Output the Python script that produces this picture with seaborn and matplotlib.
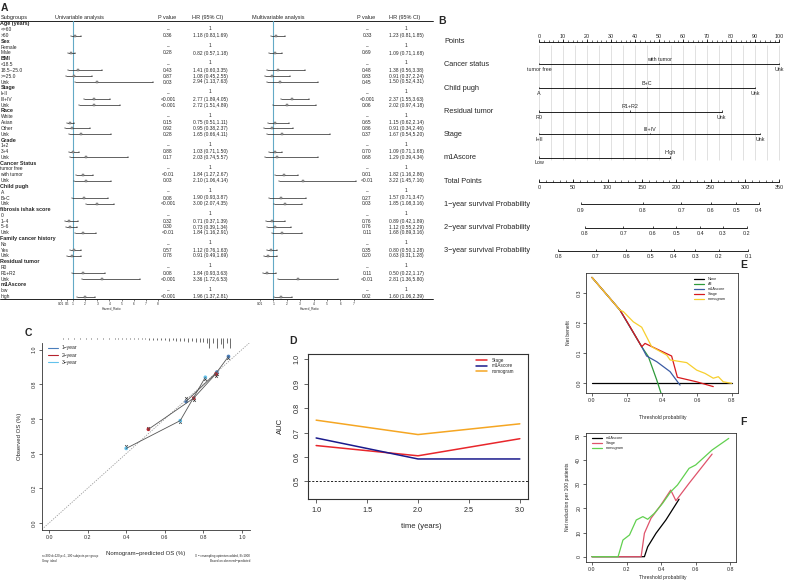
import matplotlib
matplotlib.use("Agg")
import matplotlib.pyplot as plt
from matplotlib.lines import Line2D
import numpy as np
import seaborn as sns

# ---------------- panel A: forest table ----------------
groups = ["Age (years)", "Sex", "BMI", "Stage", "Race", "Grade", "Cancer Status", "Child pugh",
          "fibrosis ishak score", "Family cancer history", "Residual tumor", "m1Ascore"]
levels = [["<=60", ">60"], ["Female", "Male"], ["<18.5", "18.5~25.0", ">=25.0", "Unk"],
          ["I+II", "III+IV", "Unk"], ["White", "Asian", "Other", "Unk"], ["1+2", "3+4", "Unk"],
          ["tumor free", "with tumor", "Unk"], ["A", "B+C", "Unk"], ["0", "1~4", "5~6", "Unk"],
          ["No", "Yes", "Unk"], ["R0", "R1+R2", "Unk"], ["low", "high"]]

uni_p = ["0.36", "0.28", "0.43", "0.87", "0.03", "<0.001", "<0.001", "0.15", "0.92", "0.28", "0.88", "0.17",
         "<0.01", "0.03", "0.08", "<0.001", "0.32", "0.30", "<0.01", "0.57", "0.78", "0.08", "<0.001", "<0.001"]
uni_hr = [1.18, 0.82, 1.41, 1.08, 2.94, 2.77, 2.72, 0.75, 0.95, 1.65, 1.03, 2.03,
          1.84, 2.10, 1.90, 3.00, 0.71, 0.73, 1.84, 1.12, 0.91, 1.84, 3.36, 1.96]
uni_lo = [0.83, 0.57, 0.60, 0.45, 1.13, 1.89, 1.51, 0.51, 0.38, 0.66, 0.71, 0.74,
          1.27, 1.06, 0.93, 2.07, 0.37, 0.39, 1.16, 0.76, 0.49, 0.93, 1.72, 1.37]
uni_hi = [1.69, 1.18, 3.35, 2.55, 7.63, 4.05, 4.89, 1.11, 2.37, 4.11, 1.50, 5.57,
          2.67, 4.14, 3.87, 4.35, 1.39, 1.34, 2.91, 1.63, 1.69, 3.63, 6.53, 2.81]

multi_p = ["0.33", "0.69", "0.48", "0.83", "0.45", "<0.001", "0.06", "0.65", "0.86", "0.37", "0.70", "0.68",
           "0.01", "<0.01", "0.27", "0.03", "0.76", "0.76", "0.11", "0.35", "0.20", "0.11", "<0.01", "0.02"]
multi_hr = [1.23, 1.09, 1.38, 0.91, 1.50, 2.37, 2.02, 1.15, 0.91, 1.67, 1.09, 1.29,
            1.82, 3.22, 1.57, 1.85, 0.89, 1.12, 1.68, 0.80, 0.63, 0.50, 2.81, 1.60]
multi_lo = [0.81, 0.71, 0.56, 0.37, 0.52, 1.55, 0.97, 0.62, 0.34, 0.54, 0.71, 0.39,
            1.16, 1.45, 0.71, 1.08, 0.42, 0.55, 0.89, 0.50, 0.31, 0.22, 1.36, 1.06]
multi_hi = [1.85, 1.68, 3.38, 2.24, 4.31, 3.63, 4.18, 2.14, 2.46, 5.20, 1.68, 4.34,
            2.86, 7.16, 3.47, 3.16, 1.89, 2.29, 3.16, 1.28, 1.28, 1.17, 5.80, 2.39]

uni_ticks = [0.01, 0.5, 1, 2, 3, 4, 5, 6, 7, 8]
multi_ticks = [0.01, 1, 2, 3, 4, 5, 6, 7]

# ---------------- panel B: nomogram ----------------
nomo_vars = ["Cancer status", "Child pugh", "Residual tumor", "Stage", "m1Ascore"]
nomo_levels = [["tumor free", "with tumor", "Unk"], ["A", "B+C", "Unk"], ["R0", "R1+R2", "Unk"],
               ["I+II", "III+IV", "Unk"], ["Low", "High"]]
nomo_points = [[0, 50, 100], [0, 45, 90], [0, 38, 76], [0, 46, 92], [0, 54.5]]
surv_names = ["1\u2212year survival Probability", "2\u2212year survival Probability",
              "3\u2212year survival Probability"]
surv_probs = [[0.9, 0.8, 0.7, 0.6, 0.5, 0.4],
              [0.8, 0.7, 0.6, 0.5, 0.4, 0.3, 0.2],
              [0.8, 0.7, 0.6, 0.5, 0.4, 0.3, 0.2, 0.1]]
surv_total = [[61, 151, 207.5, 250, 287, 320],
              [67, 123, 166, 200, 235, 268, 303],
              [28, 83, 127, 163, 196, 227.5, 261.5, 305]]

# ---------------- panel C: calibration ----------------
cal_names = ["1\u2212year", "2\u2212year", "3\u2212year"]
cal_colors = ["#4A7EBB", "#B5222D", "#62C2EC"]
cal_pred = [[0.71, 0.87, 0.93], [0.515, 0.75, 0.865], [0.40, 0.68, 0.81]]
cal_obs = [[0.70, 0.87, 0.96], [0.54, 0.72, 0.86], [0.43, 0.59, 0.84]]
cal_corr = [[0.72, 0.86, 0.95], [0.55, 0.71, 0.85], [0.445, 0.58, 0.83]]
rug_x = [0.07, 0.10, 0.13, 0.16, 0.19, 0.22, 0.25, 0.28, 0.31, 0.34, 0.36, 0.38, 0.40, 0.42, 0.44,
         0.46, 0.48, 0.50, 0.52, 0.54, 0.56, 0.58, 0.60, 0.62, 0.64, 0.66, 0.68, 0.70, 0.72, 0.74,
         0.76, 0.78, 0.80, 0.82, 0.83, 0.85, 0.87, 0.89, 0.90, 0.92, 0.94]
rug_h = [0.004, 0.004, 0.004, 0.004, 0.004, 0.004, 0.004, 0.004, 0.004, 0.004, 0.005, 0.005, 0.006, 0.005,
         0.006, 0.006, 0.008, 0.008, 0.01, 0.01, 0.012, 0.01, 0.012, 0.015, 0.012, 0.015, 0.018, 0.015,
         0.02, 0.018, 0.022, 0.02, 0.025, 0.03, 0.055, 0.03, 0.06, 0.035, 0.055, 0.03, 0.06]

# ---------------- panel D: time-dependent AUC ----------------
years = [1.0, 2.0, 3.0]
auc_stage = [0.647, 0.605, 0.675]
auc_m1a = [0.678, 0.592, 0.592]
auc_nomo = [0.751, 0.692, 0.736]

# ---------------- panel E: decision curves ----------------
none_x = [0.0, 0.8]
none_y = [0.0, 0.0]
all_x = [0.0, 0.16, 0.284, 0.322, 0.37, 0.411]
all_y = [0.352, 0.243, 0.121, 0.088, 0.010, -0.064]
m1a_x = [0.0, 0.16, 0.284, 0.312, 0.37, 0.446, 0.503]
m1a_y = [0.352, 0.243, 0.121, 0.090, 0.071, 0.038, -0.007]
stage_x = [0.0, 0.16, 0.217, 0.284, 0.303, 0.455, 0.488, 0.598, 0.693]
stage_y = [0.352, 0.243, 0.188, 0.121, 0.132, 0.090, 0.019, 0.004, -0.012]
nomo_x = [0.0, 0.16, 0.179, 0.236, 0.284, 0.341, 0.427, 0.446, 0.541, 0.598, 0.646, 0.693, 0.722, 0.75, 0.798]
nomo_y = [0.352, 0.243, 0.238, 0.204, 0.186, 0.121, 0.093, 0.077, 0.068, 0.043, 0.032, 0.016, 0.021, 0.004, -0.001]

# ---------------- panel F: clinical impact ----------------
f_m1a_x = [0.0, 0.303, 0.322, 0.37, 0.427, 0.503]
f_m1a_y = [0.0, 0.0, 4.1, 9.7, 15.2, 23.8]
f_stage_x = [0.0, 0.284, 0.303, 0.341, 0.398, 0.455, 0.485, 0.561, 0.694]
f_stage_y = [0.0, 0.0, 9.7, 15.9, 21.4, 27.6, 23.2, 30.4, 42.5]
f_nomo_x = [0.0, 0.151, 0.179, 0.217, 0.256, 0.294, 0.322, 0.361, 0.408, 0.455, 0.494, 0.561, 0.599, 0.694, 0.79]
f_nomo_y = [0.0, 0.0, 6.9, 9.0, 15.2, 16.6, 15.5, 18.0, 22.1, 26.9, 29.7, 36.6, 38.0, 44.2, 49.0]

sns.set_style("ticks")
plt.rcParams['font.family'] = ['Liberation Sans', 'DejaVu Sans']

W, H = 786, 580
fig = plt.figure(figsize=(W / 100, H / 100), dpi=100)


def px_axes(x0, y0, x1, y1):
    return fig.add_axes([x0 / W, 1 - y1 / H, (x1 - x0) / W, (y1 - y0) / H])


def ptext(x, y, s, **kw):
    kw.setdefault('va', 'center')
    fig.text(x / W, 1 - y / H, s, **kw)


def r_style(ax, fs, box=True, lw=0.6):
    for s in ['top', 'right']:
        ax.spines[s].set_visible(box)
    for s in ax.spines.values():
        s.set_linewidth(lw)
        s.set_color('#333333')
    ax.tick_params(labelsize=fs, length=2.2, width=0.5, pad=1.5)
    for lab in ax.get_yticklabels():
        lab.set_rotation(90)
        lab.set_va('center')


# ===== A =====
ROW0, PITCH = 24.0, 5.8
def rows_of(top_px, bot_px):
    return ((bot_px - ROW0) / PITCH, (top_px - ROW0) / PITCH)

rows = []
k = 0
for g, lv in zip(groups, levels):
    rows.append((g, 'head', None))
    rows.append((lv[0], 'ref', None))
    for l in lv[1:]:
        rows.append((l, 'val', k))
        k += 1

axT = px_axes(0, 10, 436, 320)
axT.set_xlim(0, 436)
axT.set_ylim(*rows_of(10, 320))
axT.axis('off')

hdr = -1.12
fsh = 4.0
fsv = 3.5
axT.text(0.5, hdr, "Subgroups", fontsize=fsh, va='center')
axT.text(55, hdr, "Univariable analysis", fontsize=fsh, va='center')
axT.text(158, hdr, "P value", fontsize=fsh, va='center')
axT.text(208, hdr, "HR (95% CI)", fontsize=fsh, va='center', ha='center')
axT.text(252, hdr, "Multivariable analysis", fontsize=fsh, va='center')
axT.text(357, hdr, "P value", fontsize=fsh, va='center')
axT.text(405, hdr, "HR (95% CI)", fontsize=fsh, va='center', ha='center')
axT.plot([0, 433], [-0.6, -0.6], color='black', lw=0.6)
axT.plot([0, 433], [(299 - ROW0) / PITCH] * 2, color='black', lw=0.6)

for i, (lab, kind, j) in enumerate(rows):
    if kind == 'head':
        axT.text(0.5, i, lab, fontsize=3.9, fontweight='bold', va='center')
        continue
    axT.text(0.5, i, lab, fontsize=fsv, va='center')
    if kind == 'ref':
        for xp, xh in [(168, 210), (367, 406)]:
            axT.text(xp, i, "\u2013", fontsize=fsv, va='center', ha='center')
            axT.text(xh, i - 0.3, "1", fontsize=fsv, va='center', ha='center')
    else:
        axT.text(168, i, uni_p[j], fontsize=fsv, va='center', ha='center')
        axT.text(210, i, f"{uni_hr[j]:.2f} ({uni_lo[j]:.2f},{uni_hi[j]:.2f})", fontsize=fsv, va='center', ha='center')
        axT.text(367, i, multi_p[j], fontsize=fsv, va='center', ha='center')
        axT.text(406, i, f"{multi_hr[j]:.2f} ({multi_lo[j]:.2f},{multi_hi[j]:.2f})", fontsize=fsv, va='center', ha='center')

val_rows = [i for i, r in enumerate(rows) if r[1] == 'val']


def forest(x0, x1, one_px, unit_px, hr, lo, hi, ticks):
    ax = px_axes(x0, 10, x1, 299)
    ax.set_facecolor('none')
    ax.set_xlim(1 + (x0 - one_px) / unit_px, 1 + (x1 - one_px) / unit_px)
    ax.set_ylim(*rows_of(10, 299))
    hr, lo, hi = np.array(hr), np.array(lo), np.array(hi)
    ax.axvline(1, ymin=0, ymax=(299 - 20.5) / (299 - 10), color='#63A9C6', lw=0.8, zorder=0)
    ax.errorbar(hr, val_rows, xerr=[hr - lo, hi - hr], fmt='s', ms=1.5, mfc='#a0a0a0', mec='#555555',
                mew=0.3, ecolor='#222222', elinewidth=0.5, capsize=0.8, capthick=0.4)
    for s in ['top', 'left', 'right']:
        ax.spines[s].set_visible(False)
    ax.spines['bottom'].set_linewidth(0.5)
    ax.set_yticks([])
    ax.set_xticks(ticks)
    ax.set_xticklabels([str(t) for t in ticks])
    ax.tick_params(axis='x', labelsize=2.3, length=1.2, width=0.4, pad=0.8)
    ax.set_xlabel("Hazard_Ratio", fontsize=2.3, labelpad=0.8)
    return ax

forest(58, 165, 73, 12.14, uni_hr, uni_lo, uni_hi, uni_ticks)
forest(258, 360, 273.3, 13.4, multi_hr, multi_lo, multi_hi, multi_ticks)

ptext(1, 8, "A", fontsize=7.5, fontweight='bold', ha='left')

# ===== B =====
P0, PPU = 539.0, 2.4033
def px2pt(p):
    return (p - P0) / PPU

axB = px_axes(440, 25, 786, 265)
axB.set_xlim(px2pt(440), px2pt(786))
axB.set_ylim(265, 25)
axB.axis('off')
lab_x = px2pt(444)
fsl, fst = 5.3, 3.9
ptext(438, 21, "B", fontsize=7.5, fontweight='bold', ha='left')

# points scale
y_pts = 41.7
axB.vlines(np.arange(0, 101, 5), 45, 160, color='#d4d4d4', lw=0.5, zorder=0)
axB.plot([0, 100], [y_pts, y_pts], color='black', lw=0.6)
axB.vlines(np.arange(0, 101, 10), y_pts, y_pts - 2.5, color='black', lw=0.5)
axB.vlines(np.arange(0, 101, 2), y_pts, y_pts - 1.3, color='black', lw=0.4)
for v in range(0, 101, 10):
    axB.text(v, y_pts - 5, str(v), fontsize=fst, ha='center', va='center')
axB.text(lab_x, y_pts, "Points", fontsize=fsl, va='center')

var_y = [64.3, 88.3, 111.7, 134.3, 157.5]
for name, lv, pts, y in zip(nomo_vars, nomo_levels, nomo_points, var_y):
    axB.text(lab_x, y, name, fontsize=fsl, va='center')
    axB.plot([0, max(pts)], [y, y], color='black', lw=0.6)
    axB.vlines(pts, y, y - 1.6, color='black', lw=0.5)
    for n, (l, p) in enumerate(zip(lv, pts)):
        dy = -4.8 if n % 2 else 5.5
        axB.text(p, y + dy, l, fontsize=fst, ha='center', va='center')

# total points
y_tot = 181.7
tp_scale = 100 / 350
axB.text(lab_x, y_tot, "Total Points", fontsize=fsl, va='center')
axB.plot([0, 350 * tp_scale], [y_tot, y_tot], color='black', lw=0.6)
axB.vlines(np.arange(0, 351, 50) * tp_scale, y_tot, y_tot - 2.5, color='black', lw=0.5)
axB.vlines(np.arange(0, 351, 10) * tp_scale, y_tot, y_tot - 1.3, color='black', lw=0.4)
for v in range(0, 351, 50):
    axB.text(v * tp_scale, y_tot + 5.6, str(v), fontsize=fst, ha='center', va='center')

surv_y = [204.3, 227.7, 251.0]
for name, probs, tots, y in zip(surv_names, surv_probs, surv_total, surv_y):
    xs = np.array(tots) * tp_scale
    axB.text(lab_x, y, name, fontsize=fsl, va='center')
    axB.plot([xs.min(), xs.max()], [y, y], color='black', lw=0.6)
    axB.vlines(xs, y, y - 2.2, color='black', lw=0.5)
    for p, xv in zip(probs, xs):
        axB.text(xv, y + 5.7, f"{p:.1f}", fontsize=fst, ha='center', va='center')

# ===== C =====
axC = px_axes(42, 343, 250, 530)
axC.axline((0, 0), slope=1, color='#9a9a9a', lw=0.6, ls=(0, (1.5, 1.5)))
for name, col, xp, yo, yc in zip(cal_names, cal_colors, cal_pred, cal_obs, cal_corr):
    sns.lineplot(x=xp, y=yo, ax=axC, color='#555555', lw=0.6, sort=False, legend=False)
    sns.scatterplot(x=xp, y=yc, ax=axC, color='#333333', marker='x', s=4, linewidth=0.5, legend=False)
    sns.scatterplot(x=xp, y=yo, ax=axC, color=col, s=7, edgecolor='none', legend=False)
axC.vlines(rug_x, 1.066, 1.066 - np.array(rug_h), color='#333333', lw=0.5, clip_on=False)
axC.set_xlim(-0.0363, 1.0415)
axC.set_ylim(-0.0403, 1.0375)
axC.set_xticks(np.arange(0, 1.01, 0.2))
axC.set_yticks(np.arange(0, 1.01, 0.2))
axC.set_xticklabels([f"{v:.1f}" for v in np.arange(0, 1.01, 0.2)])
axC.set_yticklabels([f"{v:.1f}" for v in np.arange(0, 1.01, 0.2)])
r_style(axC, 3.8, box=False)
axC.set_xlabel("")
axC.set_ylabel("")
ptext(146, 553, "Nomogram\u2212predicted OS (%)", fontsize=4.3, ha='center')
ptext(20, 436, "Observed OS (%)", fontsize=4.3, ha='center', rotation=90)
ptext(42, 558.5, "n=300 d=120 p=1, 100 subjects per group\nGray: ideal", fontsize=2.2, ha='left',
      linespacing=1.1)
ptext(250, 558.5, "X \u2212 resampling optimism added, B=1000\nBased on observed\u2212predicted", fontsize=2.2,
      ha='right', multialignment='right', linespacing=1.1)
ptext(25, 333, "C", fontsize=7.5, fontweight='bold', ha='left')
hC = [Line2D([], [], color=c, lw=0.8) for c in cal_colors]
axC.legend(hC, cal_names, loc='upper left', bbox_to_anchor=(48 / W, 1 - 345.5 / H),
           bbox_transform=fig.transFigure, frameon=False, fontsize=3.6, handlelength=2.0,
           handletextpad=0.7, borderpad=0, borderaxespad=0, labelspacing=0.45)

# ===== D =====
axD = px_axes(308, 354, 528, 499)
axD.axhline(0.5, color='black', lw=0.6, ls=(0, (2.5, 2)))
sns.lineplot(x=years, y=auc_stage, ax=axD, color='#E8262B', lw=1.1, label='Stage')
sns.lineplot(x=years, y=auc_m1a, ax=axD, color='#1A1A8C', lw=1.1, label='m1Ascore')
sns.lineplot(x=years, y=auc_nomo, ax=axD, color='#F5A623', lw=1.1, label='nomogram')
axD.set_xlim(0.92, 3.08)
axD.set_ylim(0.428, 1.022)
axD.set_xticks([1.0, 1.5, 2.0, 2.5, 3.0])
axD.set_xticklabels(["1.0", "1.5", "2.0", "2.5", "3.0"])
axD.set_yticks([0.5, 0.6, 0.7, 0.8, 0.9, 1.0])
axD.set_yticklabels(["0.5", "0.6", "0.7", "0.8", "0.9", "1.0"])
r_style(axD, 5.2, box=True, lw=0.8)
axD.tick_params(length=3, pad=2.5)
axD.set_xlabel("")
axD.set_ylabel("")
ptext(421, 526, "time (years)", fontsize=5.5, ha='center')
ptext(280, 426, "AUC", fontsize=5.5, ha='center', rotation=90)
ptext(289, 341, "D", fontsize=7.5, fontweight='bold', ha='left')
axD.legend(loc='upper left', bbox_to_anchor=(476 / W, 1 - 358 / H), bbox_transform=fig.transFigure,
           frameon=False, fontsize=3.3, handlelength=2.5, handletextpad=0.9, borderpad=0,
           borderaxespad=0, labelspacing=0.1)

# ===== E =====
axE = px_axes(586.4, 273, 737.6, 393)
e_series = [("None", none_x, none_y, 'black'), ("All", all_x, all_y, '#2E9A3A'),
            ("m1Ascore", m1a_x, m1a_y, '#3B5BA5'), ("Stage", stage_x, stage_y, '#D7191C'),
            ("nomogram", nomo_x, nomo_y, '#F7CF2E')]
for name, xs, ys, col in e_series:
    sns.lineplot(x=xs, y=ys, ax=axE, color=col, lw=0.9, label=name, sort=False)
axE.set_xlim(-0.032, 0.832)
axE.set_ylim(-0.0333, 0.3667)
axE.set_xticks([0.0, 0.2, 0.4, 0.6, 0.8])
axE.set_xticklabels(["0.0", "0.2", "0.4", "0.6", "0.8"])
axE.set_yticks([0.0, 0.1, 0.2, 0.3])
axE.set_yticklabels(["0.0", "0.1", "0.2", "0.3"])
r_style(axE, 3.8, box=True)
axE.set_xlabel("")
axE.set_ylabel("")
axE.legend(loc='upper left', bbox_to_anchor=(694 / W, 1 - 277 / H), bbox_transform=fig.transFigure,
           frameon=False, fontsize=2.8, handlelength=2.6, handletextpad=1.0, borderpad=0,
           borderaxespad=0, labelspacing=0.25)
ptext(663, 418, "Threshold probability", fontsize=3.6, ha='center')
ptext(568, 333, "Net benefit", fontsize=3.6, ha='center', rotation=90)
ptext(740, 265, "E", fontsize=7.5, fontweight='bold', ha='left')

# ===== F =====
axF = px_axes(586.4, 433, 736, 562)
f_series = [("m1Ascore", f_m1a_x, f_m1a_y, 'black'), ("Stage", f_stage_x, f_stage_y, '#DF536B'),
            ("nomogram", f_nomo_x, f_nomo_y, '#61D04F')]
for name, xs, ys, col in f_series:
    sns.lineplot(x=xs, y=ys, ax=axF, color=col, lw=0.9, label=name, sort=False)
axF.set_xlim(-0.032, 0.832)
axF.set_ylim(-2.2, 51.24)
axF.set_xticks([0.0, 0.2, 0.4, 0.6, 0.8])
axF.set_xticklabels(["0.0", "0.2", "0.4", "0.6", "0.8"])
axF.set_yticks([0, 10, 20, 30, 40, 50])
axF.set_yticklabels(["0", "10", "20", "30", "40", "50"])
r_style(axF, 3.8, box=True)
axF.set_xlabel("")
axF.set_ylabel("")
axF.legend(loc='upper left', bbox_to_anchor=(592 / W, 1 - 436 / H), bbox_transform=fig.transFigure,
           frameon=False, fontsize=2.8, handlelength=2.6, handletextpad=1.0, borderpad=0,
           borderaxespad=0, labelspacing=0.25)
ptext(663, 577, "Threshold probability", fontsize=3.6, ha='center')
ptext(568, 497, "Net reduction per 100 patients", fontsize=3.6, ha='center', rotation=90)
ptext(740, 422, "F", fontsize=7.5, fontweight='bold', ha='left')

fig.savefig("out.png", dpi=100)
